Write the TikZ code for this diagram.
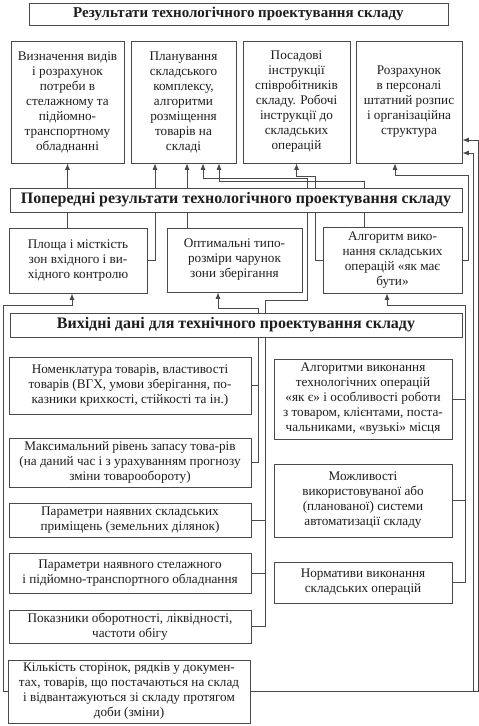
\documentclass[tikz,border=0pt]{standalone}
\usepackage{fontspec}
\setmainfont{Liberation Serif}
\usepackage{tikz}
\usetikzlibrary{arrows.meta,backgrounds}
\definecolor{scangray}{HTML}{4A4A4A}
\definecolor{scantext}{HTML}{1E1E1E}

\begin{document}
\begin{tikzpicture}[
  x=1pt,y=-1pt,
  box/.style={draw=scangray,fill=white,line width=0.8pt,align=center,inner sep=1pt,text=scantext,font=\fontsize{13.2}{15}\selectfont},
  headbox/.style={box,font=\bfseries\fontsize{16}{17}\selectfont},
  arrow/.style={-{Latex[length=6.5pt,width=5pt]},draw=scangray,line width=0.8pt},
  link/.style={draw=scangray,line width=0.8pt}
]
\useasboundingbox (0,0) rectangle (479,726);
% results
\node[headbox,font=\bfseries\fontsize{15}{17}\selectfont,minimum width=419pt,minimum height=22pt] (ttl) at (238.5,14) {Результати технологічного проектування складу};
\node[box,minimum width=113pt,minimum height=122pt] (res1) at (67.5,102) {Визначення видів\\і розрахунок\\потреби в\\стелажному та\\підйомно-\\транспортному\\обладнанні};
\node[box,minimum width=105pt,minimum height=122pt] (res2) at (183.5,102) {Планування\\складського\\комплексу,\\алгоритми\\розміщення\\товарів на\\складі};
\node[box,minimum width=107pt,minimum height=122pt] (res3) at (296.5,102) {Посадові\\інструкції\\співробітників\\складу. Робочі\\інструкції до\\складських\\операцій};
\node[box,minimum width=106pt,minimum height=122pt] (res4) at (409,102) {Розрахунок\\в персоналі\\штатний розпис\\і організаційна\\структура};
% preliminary results
\node[headbox,minimum width=452pt,minimum height=24pt] (pre) at (236,200) {Попередні результати технологічного проектування складу};
\node[box,minimum width=138pt,minimum height=65pt] (pl) at (78,260.5) {Площа і місткість\\зон вхідного і ви-\\хідного контролю};
\node[box,minimum width=135pt,minimum height=64pt] (opt) at (234.5,260) {Оптимальні типо-\\розміри чарунок\\зони зберігання};
\node[box,minimum width=139pt,minimum height=66pt] (alg) at (392.5,260) {Алгоритм вико-\\нання складських\\операцій «як має\\бути»};
% input data
\node[headbox,minimum width=452pt,minimum height=24pt] (inp) at (236,325) {Вихідні дані для технічного проектування складу};
\node[box,minimum width=242pt,minimum height=57pt] (nom) at (130,385.5) {Номенклатура товарів, властивості\\товарів (ВГХ, умови зберігання, по-\\казники крихкості, стійкості та ін.)};
\node[box,minimum width=242pt,minimum height=49pt] (max) at (130,462.5) {Максимальний рівень запасу това-рів\\(на даний час і з урахуванням прогнозу\\зміни товарообороту)};
\node[box,minimum width=242pt,minimum height=34pt] (prm) at (130,520) {Параметри наявних складських\\приміщень (земельних ділянок)};
\node[box,minimum width=242pt,minimum height=40pt] (rack) at (130,573) {Параметри наявного стелажного\\і підйомно-транспортного обладнання};
\node[box,minimum width=242pt,minimum height=33pt] (ind) at (130,626.5) {Показники оборотності, ліквідності,\\частоти обігу};
\node[box,minimum width=242pt,minimum height=63pt] (cnt) at (129,691.5) {Кількість сторінок, рядків у докумен-\\тах, товарів, що постачаються на склад\\і відвантажуються зі складу протягом\\доби (зміни)};
\node[box,minimum width=178pt,minimum height=80pt] (algs) at (363,399) {Алгоритми виконання\\технологічних операцій\\«як є» і особливості роботи\\з товаром, клієнтами, поста-\\чальниками, «вузькі» місця};
\node[box,minimum width=178pt,minimum height=73pt] (poss) at (363,500.5) {Можливості\\використовуваної або\\(планованої) системи\\автоматизації складу};
\node[box,minimum width=178pt,minimum height=41pt] (norm) at (363,582.5) {Нормативи виконання\\складських операцій};
% bends of the connectors
\coordinate (jA) at (258,308);
\coordinate (jB) at (265,300);
\coordinate (jB2) at (307,178);
\coordinate (jL) at (3,305);
\coordinate (jR1) at (478,140);
\coordinate (jR2) at (473,153);
\coordinate (jC) at (465,305);
\coordinate (jD) at (468,175);
\coordinate (jE) at (315,176);
\coordinate (jF) at (364,181);
\begin{scope}[on background layer]
% into the results
\draw[arrow] (pl.north -| res1.south) -- (res1.south);
\draw[arrow] (pl.east) -| ([xshift=-28.5pt]res2.south);
\draw[arrow] ([xshift=3.5pt]res2.south |- opt.north) -- ([xshift=3.5pt]res2.south);
\draw[arrow] (alg.north -| jF) -- (jF) -| ([xshift=35.5pt]res2.south);
\draw[arrow] (alg.west) -| (jE) -| (res3.south);
\draw[arrow] (alg.east) -| (jD) -| ([xshift=-14pt]res4.south);
\draw[arrow] (cnt.east) -| (jR1) -- (jR1 -| res4.east);
\draw[arrow] (cnt.east -| jR2) -- (jR2) -- (jR2 -| res4.east);
% into the preliminary results
\draw[link] (nom.east) -- (nom.east -| jA);
\draw[arrow] (max.east) -| (jA) -| ([xshift=-16.5pt]opt.south);
\draw[link] (prm.east) -- (prm.east -| jB);
\draw[link] (rack.east) -- (rack.east -| jB);
\draw[arrow] (ind.east) -| (jB) -| (jB2) -| ([xshift=19.5pt]res2.south);
\draw[arrow] (cnt.west) -| (jL) -| ([xshift=-6pt]pl.south);
\draw[link] (algs.east) -- (algs.east -| jC);
\draw[link] (poss.east) -- (poss.east -| jC);
\draw[arrow] (norm.east) -| (jC) -| ([xshift=-5.5pt]alg.south);
\end{scope}
\end{tikzpicture}
\end{document}
